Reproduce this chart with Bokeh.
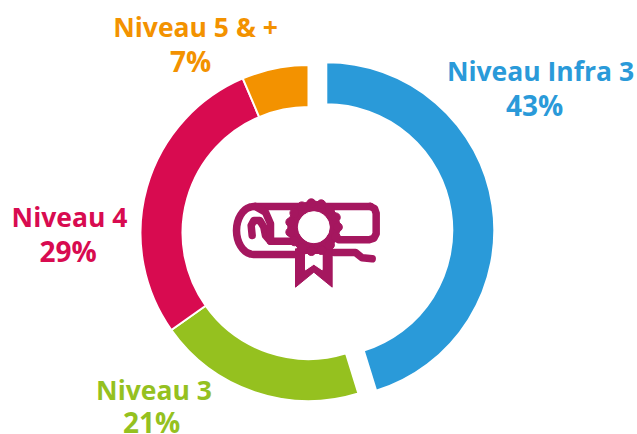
import math
from bokeh.plotting import figure
from bokeh.models import Range1d
from bokeh.core.properties import value
from bokeh.embed import file_html
from bokeh.resources import INLINE

categories = ["Niveau Infra 3", "Niveau 3", "Niveau 4", "Niveau 5 & +"]
labels = ["43%", "21%", "29%", "7%"]
slice_shares = [45.2, 20.0, 28.4, 6.4]   # arc shares as drawn in the picture
colors = ["#2A9AD9", "#95C11F", "#D80B50", "#F39200"]
exploded = [18, 0, 0, 0]
name_pos = [(540, 70), (153.5, 389), (69, 216), (195, 26)]
pct_pos = [(534, 104), (151, 421), (67.5, 250), (190, 60)]
ICON = "#A5175F"
FONT = "Open Sans"
FS_NAME = "26.5px"
FS_PCT = "28px"

W, H = 637, 434
p = figure(width=W, height=H, output_backend="svg", toolbar_location=None,
           x_range=Range1d(0, W), y_range=Range1d(0, H), min_border=0)
p.axis.visible = False
p.grid.visible = False
p.outline_line_color = None
p.background_fill_color = None

def Y(v):
    return H - v

CX, CY, RO, RI = 308, 232.5, 168, 126
a = 0.0
total = sum(slice_shares)
for share, col, ex in zip(slice_shares, colors, exploded):
    b = a + share / total * 360
    mid = math.radians((a + b) / 2)
    cx = CX + ex * math.sin(mid)
    cy = CY - ex * math.cos(mid)
    p.annular_wedge([cx], [Y(cy)], inner_radius=RI, outer_radius=RO,
                    start_angle=math.radians(90 - b), end_angle=math.radians(90 - a),
                    fill_color=col, line_color="white", line_width=2)
    a = b

for name, pct, col, np_, pp in zip(categories, labels, colors, name_pos, pct_pos):
    for t, (lx, yy), fs in ((name, np_, FS_NAME), (pct, pp, FS_PCT)):
        p.text([lx], [Y(yy)], text=[t], text_font=value(FONT), text_font_size=fs,
               text_font_style="bold", text_color=col, text_align="center",
               text_baseline="alphabetic")

# diploma icon (crop coordinates of the reference, 3x)
def zx(v): return 210 + v / 3
def zy(v): return Y(170 + v / 3)
def stroke(pts, w=7.5):
    p.line([zx(q[0]) for q in pts], [zy(q[1]) for q in pts], line_color=ICON,
           line_width=w, line_join="round", line_cap="round")

roll = [(130 - 52 * math.sin(math.radians(t)), 180 - 72 * math.cos(math.radians(t))) for t in range(0, 181, 10)]
stroke([(480, 108)] + roll + [(255, 252)])
stroke([(480, 108), (492, 114), (497, 128), (497, 190), (490, 203), (476, 208), (385, 208)])
stroke([(125, 195), (122, 165), (130, 150), (148, 150), (160, 170), (165, 195), (180, 212), (250, 212)])
stroke([(135, 108), (165, 125), (180, 160), (180, 212)])
stroke([(370, 246), (435, 246), (455, 262), (485, 265)])
p.patch([zx(v) for v in (255, 255, 310, 365, 365)], [zy(v) for v in (235, 350, 305, 350, 235)],
        fill_color=ICON, line_color=ICON)
p.patch([zx(v) for v in (285, 285, 310, 335, 335)], [zy(v) for v in (252, 298, 281, 298, 252)],
        fill_color="white", line_color="white")
sx, sy = zx(310), zy(170)
p.circle([sx], [sy], radius=26, fill_color=ICON, line_color=ICON)
bumps = [math.radians(t) for t in range(0, 360, 24)]
p.circle([sx + 24 * math.cos(t) for t in bumps], [sy + 24 * math.sin(t) for t in bumps],
         radius=4.5, fill_color=ICON, line_color=ICON)
p.circle([sx], [sy], radius=15.5, fill_color="white", line_color="white")

open("out.html", "w").write(file_html(p, INLINE))
